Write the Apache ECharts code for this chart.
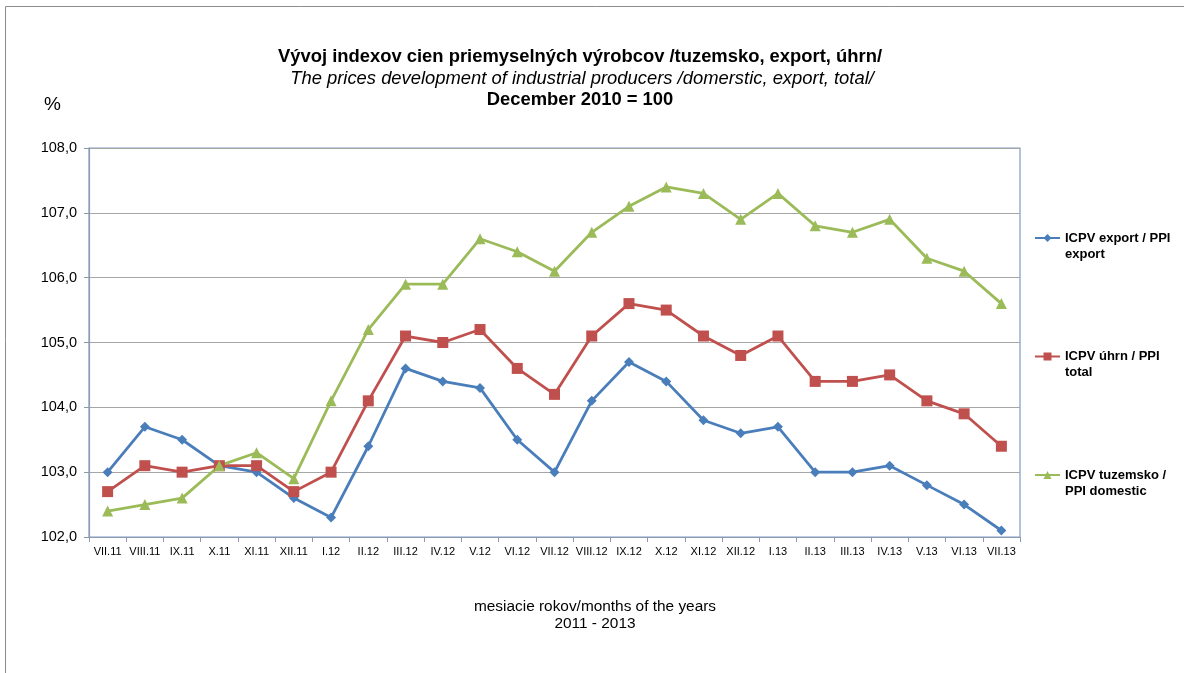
<!DOCTYPE html>
<html><head><meta charset="utf-8">
<script src="https://cdn.jsdelivr.net/npm/echarts@6/dist/echarts.min.js"></script>
<style>html,body{margin:0;padding:0;background:#fff}#c{width:1184px;height:673px}</style>
</head><body><div id="c"></div>
<script>
const categories = ['VII.11','VIII.11','IX.11','X.11','XI.11','XII.11','I.12','II.12','III.12','IV.12','V.12','VI.12','VII.12','VIII.12','IX.12','X.12','XI.12','XII.12','I.13','II.13','III.13','IV.13','V.13','VI.13','VII.13'];
const exportVals = [103.0,103.7,103.5,103.1,103.0,102.6,102.3,103.4,104.6,104.4,104.3,103.5,103.0,104.1,104.7,104.4,103.8,103.6,103.7,103.0,103.0,103.1,102.8,102.5,102.1];
const totalVals = [102.7,103.1,103.0,103.1,103.1,102.7,103.0,104.1,105.1,105.0,105.2,104.6,104.2,105.1,105.6,105.5,105.1,104.8,105.1,104.4,104.4,104.5,104.1,103.9,103.4];
const domesticVals = [102.4,102.5,102.6,103.1,103.3,102.9,104.1,105.2,105.9,105.9,106.6,106.4,106.1,106.7,107.1,107.4,107.3,106.9,107.3,106.8,106.7,106.9,106.3,106.1,105.6];
const seriesNames = ['ICPV export / PPI\nexport','ICPV úhrn / PPI\ntotal','ICPV tuzemsko /\nPPI domestic'];

const FONT = '"Liberation Sans", Arial, sans-serif';
const chart = echarts.init(document.getElementById('c'));
chart.setOption({
  animation: false,
  textStyle: {fontFamily: FONT},
  title: [
    {text: 'Vývoj indexov cien priemyselných výrobcov /tuzemsko, export, úhrn/', left: 575, top: 43, textAlign: 'center',
     textStyle: {fontSize: 18.4, fontWeight: 'bold', color: '#000', fontFamily: FONT}},
    {text: 'The prices development of industrial producers /domerstic, export, total/', left: 577, top: 65, textAlign: 'center',
     textStyle: {fontSize: 18.4, fontStyle: 'italic', fontWeight: 'normal', color: '#000', fontFamily: FONT}},
    {text: 'December 2010 = 100', left: 575, top: 86, textAlign: 'center',
     textStyle: {fontSize: 18.4, fontWeight: 'bold', color: '#000', fontFamily: FONT}},
    {text: '%', left: 39, top: 90, textStyle: {fontSize: 19, fontWeight: 'normal', color: '#000', fontFamily: FONT}},
    {text: 'mesiacie rokov/months of the years\n2011 - 2013', left: 590, top: 593, textAlign: 'center',
     textStyle: {fontSize: 15.4, fontWeight: 'normal', color: '#000', lineHeight: 17, fontFamily: FONT}}
  ],
  graphic: [
    {type: 'rect', shape: {x: 5.5, y: 6.5, width: 1300, height: 800}, style: {fill: 'none', stroke: '#8c8c8c', lineWidth: 1}, silent: true}
  ],
  grid: {left: 89, top: 148, width: 931, height: 389, show: true, borderColor: '#7f9cc4', borderWidth: 1.2, backgroundColor: 'transparent'},
  legend: {
    orient: 'vertical', left: 1029, top: 209, itemGap: 70.5, itemWidth: 25, itemHeight: 10,
    formatter: name => '\n' + name,
    textStyle: {fontSize: 13, fontWeight: 'bold', color: '#000', lineHeight: 16, fontFamily: FONT},
    data: seriesNames
  },
  xAxis: {
    type: 'category', data: categories, boundaryGap: true,
    axisLine: {show: true, lineStyle: {color: '#8c9bb0', width: 1.2}},
    axisTick: {show: true, alignWithLabel: false, length: 5, lineStyle: {color: '#8c9bb0'}},
    axisLabel: {fontSize: 11, color: '#000', margin: 9, interval: 0, fontFamily: FONT},
    splitLine: {show: false}
  },
  yAxis: {
    type: 'value', min: 102, max: 108, interval: 1,
    axisLine: {show: true, lineStyle: {color: '#8c9bb0', width: 1.2}},
    axisTick: {show: true, length: 5, lineStyle: {color: '#8c9bb0'}},
    axisLabel: {fontSize: 14.5, color: '#000', margin: 12, formatter: v => v.toFixed(1).replace('.', ','), fontFamily: FONT},
    splitLine: {show: true, lineStyle: {color: '#a6a6a6', width: 1.2}}
  },
  series: [
    {name: seriesNames[0], type: 'line', data: exportVals, symbol: 'diamond', symbolSize: 10,
     lineStyle: {color: '#4a7ebb', width: 2.8}, itemStyle: {color: '#4a7ebb'}},
    {name: seriesNames[1], type: 'line', data: totalVals, symbol: 'rect', symbolSize: 11,
     lineStyle: {color: '#c0504d', width: 2.8}, itemStyle: {color: '#c0504d'}},
    {name: seriesNames[2], type: 'line', data: domesticVals, symbol: 'triangle', symbolSize: 11,
     lineStyle: {color: '#9bbb59', width: 2.8}, itemStyle: {color: '#9bbb59'}}
  ]
});
</script></body></html>
